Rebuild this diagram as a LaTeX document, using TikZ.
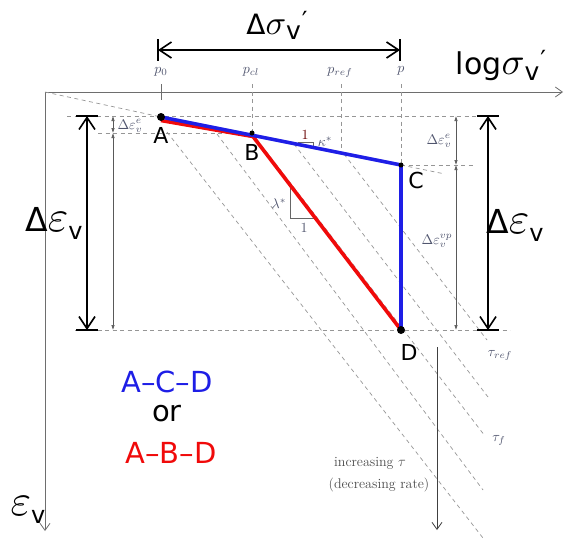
\documentclass[tikz,border=0pt]{standalone}
\usepackage{graphicx}
\usepackage{fontspec}
\newfontfamily\sansf{DejaVu Sans}
\usetikzlibrary{arrows.meta}
\definecolor{pblue}{RGB}{30,30,230}
\definecolor{pred}{RGB}{240,10,10}
\definecolor{slate}{RGB}{80,85,110}
\definecolor{guidegray}{RGB}{150,150,150}
\definecolor{axisgray}{RGB}{110,110,110}
\newcommand{\bigeps}[1]{\scalebox{#1}{$\varepsilon$}}
\newcommand{\bigsig}[1]{\scalebox{#1}{$\sigma$}}
\newcommand{\sml}[1]{\scalebox{1.4}{$#1$}}
\begin{document}
\begin{tikzpicture}[x=1pt,y=-1pt,
  axis/.style={draw=axisgray, line width=0.8pt},
  guide/.style={draw=guidegray, line width=0.7pt, dash pattern=on 4pt off 3.5pt},
  thinarr/.style={draw=black!65, line width=0.6pt, {Latex[length=5pt,width=3.5pt]}-{Latex[length=5pt,width=3.5pt]}},
  bigarr/.style={line width=1.6pt, {Straight Barb[length=12pt,width=16pt]}-{Straight Barb[length=12pt,width=16pt]}},
  bar/.style={line width=1.6pt},
  path/.style={line width=3.6pt, line join=round},
  tri/.style={draw=black!60, line width=0.7pt},
  ptlbl/.style={font=\sansf\fontsize{22}{22}\selectfont, inner sep=0pt},
  small/.style={text=slate, inner sep=0pt},
  note/.style={text=black!70, inner sep=0pt, font=\fontsize{14}{16}\selectfont}
]
\useasboundingbox (0,0) rectangle (568,541);

% key points
\coordinate (O) at (45,92);
\coordinate (Xend) at (563,92);
\coordinate (Yend) at (45,531);
\coordinate (A) at (161,117);
\coordinate (B) at (252,133);
\coordinate (C) at (401,165);
\coordinate (D) at (401,330);
\coordinate (Ar) at (161,120.5);
\coordinate (Br) at (253,136.5);
\coordinate (Kend) at (445,174);

% axes
\draw[axis,-{Straight Barb[length=7pt,width=10pt]}] (O) -- (Xend);
\draw[axis,-{Straight Barb[length=7pt,width=10pt]}] (O) -- (Yend);

% ticks and vertical guides
\coordinate (t0) at (161,84);
\coordinate (t0b) at (161,100);
\coordinate (tcl) at (252,84);
\coordinate (tref) at (341,84);
\coordinate (tref2) at (341,152);
\coordinate (tp) at (401,84);
\draw[axis] (t0) -- (t0b);
\draw[guide] (tcl) -- (B);
\draw[guide] (tref) -- (tref2);
\draw[guide] (tp) -- (C);

% horizontal guides
\coordinate (h1a) at (67,116); \coordinate (h1b) at (498,116);
\coordinate (h2a) at (98,133);
\coordinate (h3b) at (475,165);
\coordinate (h4a) at (75,330); \coordinate (h4b) at (510,330);
\draw[guide] (h1a) -- (h1b);
\draw[guide] (h2a) -- (B);
\draw[guide] (C) -- (h3b);
\draw[guide] (h4a) -- (h4b);

% kappa line
\draw[guide] (O) -- (A);
\draw[guide] (C) -- (Kend);

% diagonal time lines
\coordinate (L1s) at (167,132); \coordinate (L1e) at (483,538);
\coordinate (L2s) at (217,134); \coordinate (L2e) at (483,490);
\coordinate (L3e) at (485,436);
\coordinate (L4s) at (294,144); \coordinate (L4e) at (488,397);
\coordinate (L5s) at (344,154); \coordinate (L5e) at (487,340);
\draw[guide] (L1s) -- (L1e);
\draw[guide] (L2s) -- (L2e);
\draw[guide] (B) -- (L3e);
\draw[guide] (L4s) -- (L4e);
\draw[guide] (L5s) -- (L5e);

% slope triangles
\coordinate (k1) at (298,142); \coordinate (k2) at (313,142); \coordinate (k3) at (313,146);
\draw[tri] (k1) -- (k2) -- (k3);
\coordinate (l1) at (290,185); \coordinate (l2) at (290,218); \coordinate (l3) at (316,218);
\draw[tri] (l1) -- (l2) -- (l3);
\node[small, text=black!60!red] at (305,135) {\sml{1}};
\node[small] at (325,142) {\sml{\kappa^{*}}};
\node[small] at (279,204) {\sml{\lambda^{*}}};
\node[small] at (304,228) {\sml{1}};

% paths
\draw[path, pred] (Ar) -- (Br) -- (D);
\draw[path, pblue] (A) -- (C) -- (D);
\fill (A) circle (4pt);
\fill (B) circle (2.5pt);
\fill (C) circle (2.5pt);
\fill (D) circle (4pt);

% point labels
\node[ptlbl] at (161,135) {A};
\node[ptlbl] at (252,152) {B};
\node[ptlbl] at (416,180) {C};
\node[ptlbl] at (409,352) {D};

% p labels
\node[small] at (161,72) {\sml{p_{0}}};
\node[small] at (251,72) {\sml{p_{cl}}};
\node[small] at (340,72) {\sml{p_{ref}}};
\node[small] at (401,71) {\sml{p}};

% top Delta sigma arrow
\coordinate (s1) at (158,50); \coordinate (s2) at (400,50);
\coordinate (s1a) at (158,39); \coordinate (s1b) at (158,61);
\coordinate (s2a) at (400,39); \coordinate (s2b) at (400,61);
\draw[bigarr] (s1) -- (s2);
\draw[bar] (s1a) -- (s1b);
\draw[bar] (s2a) -- (s2b);
\node[inner sep=0pt] (dsig) at (277,25) {{\sansf\fontsize{28}{28}\selectfont Δ}\bigsig{3.4}{\sansf\fontsize{25}{25}\selectfont\raisebox{-5pt}{v}\raisebox{5pt}{\kern1pt ′}}};
\node[inner sep=0pt] (logs) at (501,66) {{\sansf\fontsize{30}{30}\selectfont log}\bigsig{3.8}{\sansf\fontsize{25}{25}\selectfont\raisebox{-6pt}{v}\raisebox{6pt}{\kern1pt ′}}};

% left big Delta eps
\coordinate (lb1) at (87,116); \coordinate (lb2) at (87,330);
\coordinate (lb1a) at (76,116); \coordinate (lb1b) at (98,116);
\coordinate (lb2a) at (76,330); \coordinate (lb2b) at (98,330);
\draw[bigarr] (lb1) -- (lb2);
\draw[bar] (lb1a) -- (lb1b);
\draw[bar] (lb2a) -- (lb2b);
\node[inner sep=0pt] at (54,223) {{\sansf\fontsize{33}{33}\selectfont Δ}\bigeps{4.4}{\sansf\fontsize{24}{24}\selectfont\raisebox{-8pt}{v}}};

% left thin
\coordinate (lt1) at (113,116); \coordinate (lt2) at (113,133); \coordinate (lt3) at (113,330);
\draw[thinarr] (lt1) -- (lt2);
\draw[thinarr] (lt2) -- (lt3);
\node[small] at (130,126) {\sml{\Delta\varepsilon^{e}_{v}}};

% right thin
\coordinate (rt1) at (456,116); \coordinate (rt2) at (456,165); \coordinate (rt3) at (456,330);
\draw[thinarr] (rt1) -- (rt2);
\draw[thinarr] (rt2) -- (rt3);
\node[small] at (439,141) {\sml{\Delta\varepsilon^{e}_{v}}};
\node[small] at (437,241) {\sml{\Delta\varepsilon^{vp}_{v}}};

% right big
\coordinate (rb1) at (488,116); \coordinate (rb2) at (488,330);
\coordinate (rb1a) at (477,116); \coordinate (rb1b) at (499,116);
\coordinate (rb2a) at (477,330); \coordinate (rb2b) at (499,330);
\draw[bigarr] (rb1) -- (rb2);
\draw[bar] (rb1a) -- (rb1b);
\draw[bar] (rb2a) -- (rb2b);
\node[inner sep=0pt] at (515,225) {{\sansf\fontsize{33}{33}\selectfont Δ}\bigeps{4.4}{\sansf\fontsize{24}{24}\selectfont\raisebox{-8pt}{v}}};

% bottom eps v axis label
\node[inner sep=0pt] at (28,510) {\bigeps{4.4}{\sansf\fontsize{24}{24}\selectfont\raisebox{-8pt}{v}}};

% tau labels
\node[small] at (500,355) {\sml{\tau_{ref}}};
\node[small] at (499,440) {\sml{\tau_{f}}};

% increasing tau arrow
\coordinate (it1) at (437,347); \coordinate (it2) at (437,530);
\draw[draw=black!75, line width=0.8pt, -{Straight Barb[length=7pt,width=10pt]}] (it1) -- (it2);
\node[note] at (370,463) {increasing $\tau$};
\node[note] at (379,485) {(decreasing rate)};

% path legend
\node[inner sep=0pt, text=pblue, font=\sansf\fontsize{29}{29}\selectfont] at (167,382) {A–C–D};
\node[inner sep=0pt, font=\sansf\fontsize{29}{29}\selectfont] at (167,414) {or};
\node[inner sep=0pt, text=pred, font=\sansf\fontsize{29}{29}\selectfont] at (171,453) {A–B–D};
\end{tikzpicture}
\end{document}
